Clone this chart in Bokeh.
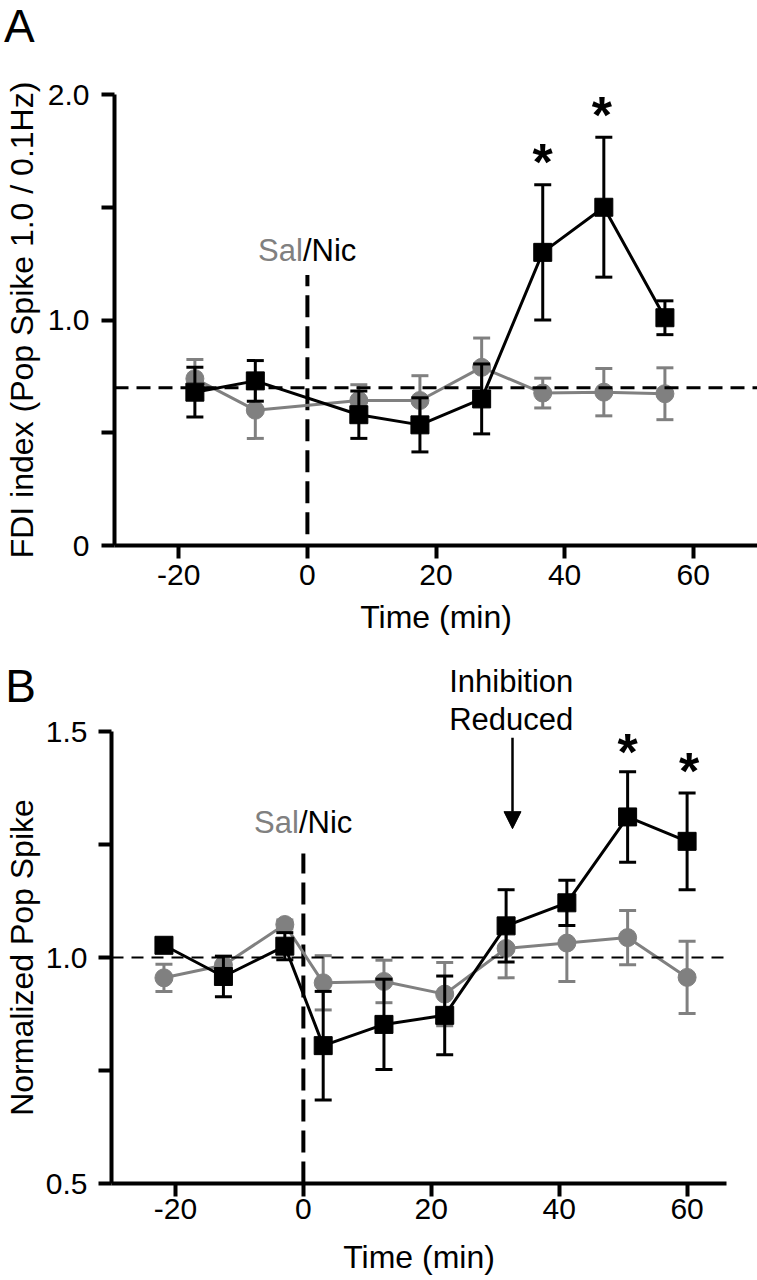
from bokeh.plotting import figure
from bokeh.models import Span, Arrow, NormalHead, Label, FixedTicker, Range1d
from bokeh.embed import file_html
from bokeh.resources import INLINE
from bokeh.core.properties import value

FONT = "Liberation Sans"
GRAY = "#808080"
BLACK = "#000000"

# ---------------- Panel A data ----------------
time_a = [-17.5, -8.1, 8.0, 17.5, 27.1, 36.6, 46.1, 55.6]
nic_a = [0.68, 0.73, 0.58, 0.535, 0.65, 1.30, 1.50, 1.01]
nic_a_err = [0.11, 0.09, 0.105, 0.12, 0.155, 0.30, 0.31, 0.075]
sal_a = [0.74, 0.60, 0.643, 0.643, 0.79, 0.676, 0.68, 0.673]
sal_a_err = [0.085, 0.125, 0.07, 0.11, 0.13, 0.066, 0.105, 0.115]
baseline_a = 0.70
onset_a_y = [0.05, 1.2]
onset_text_a_y = 1.308
star_a_x = [36.6, 45.8]
star_a_y = [1.70, 1.908]
yticks_a = [0, 0.5, 1.0, 1.5, 2.0]
ylabels_a = {0: "0", 0.5: "", 1.0: "1.0", 1.5: "", 2.0: "2.0"}

# ---------------- Panel B data ----------------
time_b = [-21.8, -12.5, -2.9, 3.1, 12.6, 22.1, 31.7, 41.2, 50.7, 60.0]
nic_b = [1.027, 0.958, 1.025, 0.805, 0.852, 0.872, 1.07, 1.121, 1.311, 1.257]
nic_b_err = [0.013, 0.045, 0.03, 0.12, 0.10, 0.087, 0.08, 0.05, 0.10, 0.107]
sal_b = [0.955, 0.983, 1.073, 0.944, 0.947, 0.919, 1.02, 1.032, 1.044, 0.956]
sal_b_err = [0.03, 0.02, 0.01, 0.06, 0.047, 0.07, 0.065, 0.085, 0.06, 0.08]
baseline_b = 1.0
onset_b_y = [0.5, 1.23]
onset_text_b_y = 1.298
star_b_x = [50.7, 60.3]
star_b_y = [1.455, 1.412]
yticks_b = [0.5, 0.75, 1.0, 1.25, 1.5]
ylabels_b = {0.5: "0.5", 0.75: "", 1.0: "1.0", 1.25: "", 1.5: "1.5"}

xticks = [-20, 0, 20, 40, 60]
xlabels = {t: str(t) for t in xticks}

inhib_x = 32.5
inhib_lines = ["Inhibition", "Reduced"]
inhib_text_y = [1.610, 1.526]
inhib_arrow_y = [1.486, 1.285]

panel_a_pos = (-47.2, 2.303)
panel_b_pos = (-46.6, 1.601)


def make_panel(xr, yr, border_left, border_top, border_bottom, yticks, ylabels,
               ylabel_text, x_std, x_lab_std, y_std, y_lab_std):
    p = figure(width=757, height=640, output_backend="svg",
               toolbar_location=None, x_range=Range1d(*xr), y_range=Range1d(*yr),
               min_border_left=border_left, min_border_top=border_top,
               min_border_bottom=border_bottom, min_border_right=0)
    p.outline_line_color = None
    p.grid.visible = False
    p.background_fill_color = "white"
    p.border_fill_color = "white"

    p.xaxis.ticker = FixedTicker(ticks=xticks)
    p.xaxis.major_label_overrides = xlabels
    p.yaxis.ticker = FixedTicker(ticks=yticks)
    p.yaxis.major_label_overrides = ylabels
    for ax in (p.xaxis[0], p.yaxis[0]):
        ax.axis_line_width = 4
        ax.major_tick_line_width = 4
        ax.major_tick_out = 13
        ax.major_tick_in = 0
        ax.minor_tick_out = 0
        ax.minor_tick_in = 0
        ax.major_label_text_font = FONT
        ax.major_label_text_font_size = "30px"
        ax.major_label_text_color = BLACK
        ax.axis_label_text_font = FONT
        ax.axis_label_text_font_size = "32px"
        ax.axis_label_text_font_style = "normal"
        ax.axis_label_text_color = BLACK
    p.yaxis.major_label_standoff = y_std
    p.yaxis.axis_label_standoff = y_lab_std
    p.xaxis.major_label_standoff = x_std
    p.xaxis.axis_label_standoff = x_lab_std
    p.xaxis.axis_label = "Time (min)"
    p.yaxis.axis_label = ylabel_text
    return p


def add_series(p, t, y, err, color, marker):
    lo = [a - b for a, b in zip(y, err)]
    hi = [a + b for a, b in zip(y, err)]
    p.segment(x0=t, y0=lo, x1=t, y1=hi, line_width=3, line_color=color)
    p.scatter(t, hi, marker="dash", size=17, line_width=3, line_color=color)
    p.scatter(t, lo, marker="dash", size=17, line_width=3, line_color=color)
    p.line(t, y, line_width=3, line_color=color)
    p.scatter(t, y, marker=marker, size=18, fill_color=color, line_color=color)


def add_onset(p, ys, text_y):
    p.line([0, 0], ys, line_width=4, line_color=BLACK, line_dash="22 9")
    p.text(x=[-0.7], y=[text_y], text=["Sal"], text_align="right",
           text_baseline="alphabetic", text_font=value(FONT),
           text_font_size="31px", text_color=GRAY)
    p.text(x=[-0.7], y=[text_y], text=["/Nic"], text_align="left",
           text_baseline="alphabetic", text_font=value(FONT),
           text_font_size="31px", text_color=BLACK)


def add_stars(p, xs, ys):
    p.text(x=xs, y=ys, text=["*"] * len(xs), text_align="center",
           text_baseline="alphabetic", text_font=value(FONT),
           text_font_size="52px", text_font_style="bold", text_color=BLACK)


def add_outside_text(p, x, y, txt, size, align="left", side="above"):
    # placed in a side panel so it is not clipped to the frame
    p.add_layout(Label(x=x, y=y, text=txt, text_baseline="alphabetic",
                       text_align=align, text_font=FONT,
                       text_font_size=size, text_color=BLACK), side)


# ---------------- Panel A ----------------
pA = make_panel((-30, 70), (0, 2.0), 113, 94, 95, yticks_a, ylabels_a,
                "FDI index (Pop Spike 1.0 / 0.1Hz)", 6, 11, 12, 5)
add_onset(pA, onset_a_y, onset_text_a_y)
add_series(pA, time_a, sal_a, sal_a_err, GRAY, "circle")
add_series(pA, time_a, nic_a, nic_a_err, BLACK, "square")
pA.add_layout(Span(location=baseline_a, dimension="width", line_dash="14 8",
                   line_width=3, line_color=BLACK))
add_stars(pA, star_a_x, star_a_y)
add_outside_text(pA, panel_a_pos[0], panel_a_pos[1], "A", "46px")

# ---------------- Panel B ----------------
# the panel letter sits in the right side panel (~31 px wide), so the frame ends ~726 px
pB = make_panel((-30, 66.16), (0.5, 1.5), 110, 91, 97, yticks_b, ylabels_b,
                "Normalized Pop Spike", 2, 17, 11, 3)
add_onset(pB, onset_b_y, onset_text_b_y)
add_series(pB, time_b, sal_b, sal_b_err, GRAY, "circle")
add_series(pB, time_b, nic_b, nic_b_err, BLACK, "square")
pB.add_layout(Span(location=baseline_b, dimension="width", line_dash="12 8",
                   line_width=2, line_color=BLACK))
add_stars(pB, star_b_x, star_b_y)
for txt, ty in zip(inhib_lines, inhib_text_y):
    add_outside_text(pB, inhib_x, ty, txt, "31px", align="center")
pB.add_layout(Arrow(x_start=inhib_x + 0.2, y_start=inhib_arrow_y[0],
                    x_end=inhib_x + 0.2, y_end=inhib_arrow_y[1], line_width=2.5,
                    line_color=BLACK,
                    end=NormalHead(size=17, fill_color=BLACK, line_color=BLACK)))
add_outside_text(pB, panel_b_pos[0], panel_b_pos[1], "B", "46px", side="right")

# two independent roots stacked on the page (no frame alignment between them)
open("out.html", "w").write(file_html([pA, pB], INLINE))
